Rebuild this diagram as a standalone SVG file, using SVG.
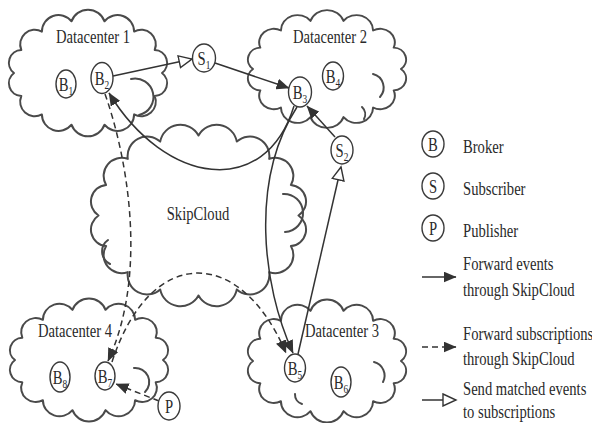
<svg xmlns="http://www.w3.org/2000/svg" xmlns:xlink="http://www.w3.org/1999/xlink" width="592" height="423" viewBox="0 0 592 423">
<style>
.cloud{fill:#fff;stroke:#4a4a4a;stroke-width:2;stroke-linejoin:round}
.wisp{fill:none;stroke:#4a4a4a;stroke-width:2;stroke-linecap:round}
.node{fill:#fff;stroke:#3a3a3a;stroke-width:1.4}
.t{font-family:"Liberation Serif","Times New Roman",serif;font-size:19.5px;fill:#2a2a2a}
.c{text-anchor:middle}
.sub{font-size:12.5px}
.ln{fill:none;stroke:#333;stroke-width:1.5}
.dash{stroke-dasharray:6 4}
</style>
<defs>
<path id="dc" d="M 74 0 A 12.8 12.8 0 0 1 66.7 23 A 14.6 14.6 0 0 1 46.1 41.4 A 16.6 16.6 0 0 1 16.5 51.7 A 17.5 17.5 0 0 1 -16.5 51.7 A 16.6 16.6 0 0 1 -46.1 41.4 A 14.6 14.6 0 0 1 -66.7 23 A 12.8 12.8 0 0 1 -74 0 A 12.8 12.8 0 0 1 -66.7 -23 A 14.6 14.6 0 0 1 -46.1 -41.4 A 16.6 16.6 0 0 1 -16.5 -51.7 A 17.5 17.5 0 0 1 16.5 -51.7 A 16.6 16.6 0 0 1 46.1 -41.4 A 14.6 14.6 0 0 1 66.7 -23 A 12.8 12.8 0 0 1 74 0 Z"/>
<marker id="ah" viewBox="0 0 13 11" refX="12.5" refY="5.5" markerWidth="13" markerHeight="11" orient="auto" markerUnits="userSpaceOnUse"><path d="M0,0 L13,5.5 L0,11 z" fill="#333"/></marker>
<marker id="ahh" viewBox="-1 -1 16 14" refX="13" refY="6" markerWidth="16" markerHeight="14" orient="auto" markerUnits="userSpaceOnUse"><path d="M0,0 L13,6 L0,12 z" fill="#fff" stroke="#333" stroke-width="1.4"/></marker>
</defs>

<g id="skipcloud">
<path class="cloud" transform="translate(198.5,215.5)" d="M 100 0 A 16.7 16.7 0 0 1 92.4 30.6 A 18 18 0 0 1 70.7 56.6 A 19.5 19.5 0 0 1 38.3 73.9 A 20.6 20.6 0 0 1 0 80 A 20.6 20.6 0 0 1 -38.3 73.9 A 19.5 19.5 0 0 1 -70.7 56.6 A 18 18 0 0 1 -92.4 30.6 A 16.7 16.7 0 0 1 -100 0 A 16.7 16.7 0 0 1 -92.4 -30.6 A 18 18 0 0 1 -70.7 -56.6 A 19.5 19.5 0 0 1 -38.3 -73.9 A 20.6 20.6 0 0 1 0 -80 A 20.6 20.6 0 0 1 38.3 -73.9 A 19.5 19.5 0 0 1 70.7 -56.6 A 18 18 0 0 1 92.4 -30.6 A 16.7 16.7 0 0 1 100 0 Z"/>
<path class="wisp" d="M 283 194 A 16 16 0 0 1 285 232"/>
<path class="wisp" d="M 108 240 A 14 14 0 0 0 110 264"/>
<text class="t c" transform="translate(198,220) scale(0.75,1)">SkipCloud</text>
</g>

<g id="datacenter1">
<use xlink:href="#dc" href="#dc" class="cloud" transform="translate(88,73)"/>
<path class="wisp" d="M 131 79 A 17 17 0 0 1 139 115"/>
<text class="t c" transform="translate(93,43) scale(0.75,1)">Datacenter 1</text>
</g>
<g id="datacenter2">
<use xlink:href="#dc" href="#dc" class="cloud" transform="translate(327,69) scale(1,0.93)"/>
<path class="wisp" d="M 373 74 A 14 14 0 0 1 380 97"/>
<path class="wisp" d="M 362 107 A 10 10 0 0 1 364 119"/>
<text class="t c" transform="translate(330,43) scale(0.75,1)">Datacenter 2</text>
</g>
<g id="datacenter4">
<use xlink:href="#dc" href="#dc" class="cloud" transform="translate(89,360) scale(1,0.97)"/>
<path class="wisp" d="M 134 368 A 14 14 0 0 1 145 392"/>
<text class="t c" transform="translate(75,337) scale(0.75,1)">Datacenter 4</text>
</g>
<g id="datacenter3">
<use xlink:href="#dc" href="#dc" class="cloud" transform="translate(327,361) scale(1,0.97)"/>
<path class="wisp" d="M 374 362 A 14 14 0 0 1 383 382"/>
<path class="wisp" d="M 295 394 A 10 10 0 0 0 302 404"/>
<text class="t c" transform="translate(342,337) scale(0.75,1)">Datacenter 3</text>
</g>

<g id="connectors">
<path class="ln" d="M 113 76 L 192 59" marker-end="url(#ahh)"/>
<path class="ln" d="M 215 63 L 289 88" marker-end="url(#ah)"/>
<path class="ln" d="M 294 106 C 265 200, 165 185, 109 93" marker-end="url(#ah)"/>
<path class="ln" d="M 297 107 C 250 180, 262 285, 293 353" marker-end="url(#ah)"/>
<path class="ln" d="M 298 354 L 341 167" marker-end="url(#ahh)"/>
<path class="ln" d="M 335 137 L 307 106" marker-end="url(#ah)"/>
<path class="ln dash" d="M 105 94 C 125 150, 150 270, 108 361" marker-end="url(#ah)"/>
<path class="ln dash" d="M 112 362 C 150 245, 240 245, 286 353" marker-end="url(#ah)"/>
<path class="ln dash" d="M 159 401 L 116 384" marker-end="url(#ah)"/>
</g>

<g id="B1"><ellipse class="node" cx="66" cy="84" rx="10" ry="14"/><text class="t c" transform="translate(66,90.5) scale(0.75,1)">B<tspan class="sub" dy="4">1</tspan></text></g>
<g id="B2"><ellipse class="node" cx="102" cy="78" rx="11" ry="15.5"/><text class="t c" transform="translate(102,84.5) scale(0.75,1)">B<tspan class="sub" dy="4">2</tspan></text></g>
<g id="S1"><ellipse class="node" cx="204" cy="58" rx="11.5" ry="14"/><text class="t c" transform="translate(204,64.5) scale(0.75,1)">S<tspan class="sub" dy="4">1</tspan></text></g>
<g id="B3"><ellipse class="node" cx="300" cy="92" rx="11.5" ry="15"/><text class="t c" transform="translate(300,98.5) scale(0.75,1)">B<tspan class="sub" dy="4">3</tspan></text></g>
<g id="B4"><ellipse class="node" cx="333" cy="76" rx="10.5" ry="14"/><text class="t c" transform="translate(333,82.5) scale(0.75,1)">B<tspan class="sub" dy="4">4</tspan></text></g>
<g id="S2"><ellipse class="node" cx="342" cy="150" rx="11" ry="14"/><text class="t c" transform="translate(342,156.5) scale(0.75,1)">S<tspan class="sub" dy="4">2</tspan></text></g>
<g id="B5"><ellipse class="node" cx="295" cy="368" rx="10.5" ry="14"/><text class="t c" transform="translate(295,374.5) scale(0.75,1)">B<tspan class="sub" dy="4">5</tspan></text></g>
<g id="B6"><ellipse class="node" cx="341" cy="382" rx="10" ry="15"/><text class="t c" transform="translate(341,388.5) scale(0.75,1)">B<tspan class="sub" dy="4">6</tspan></text></g>
<g id="B8"><ellipse class="node" cx="60" cy="377" rx="10" ry="15"/><text class="t c" transform="translate(60,383.5) scale(0.75,1)">B<tspan class="sub" dy="4">8</tspan></text></g>
<g id="B7"><ellipse class="node" cx="105" cy="376" rx="10" ry="14"/><text class="t c" transform="translate(105,382.5) scale(0.75,1)">B<tspan class="sub" dy="4">7</tspan></text></g>
<g id="P"><ellipse class="node" cx="169" cy="406" rx="11" ry="14"/><text class="t c" transform="translate(169,412.5) scale(0.75,1)">P</text></g>

<g id="legend">
<ellipse class="node" cx="433" cy="144" rx="11" ry="13"/><text class="t c" transform="translate(433,150.5) scale(0.75,1)">B</text>
<ellipse class="node" cx="433" cy="186" rx="11" ry="13"/><text class="t c" transform="translate(433,192.5) scale(0.75,1)">S</text>
<ellipse class="node" cx="433" cy="228" rx="11" ry="13"/><text class="t c" transform="translate(433,234.5) scale(0.75,1)">P</text>
<text class="t" transform="translate(463,153) scale(0.75,1)">Broker</text>
<text class="t" transform="translate(463,195) scale(0.75,1)">Subscriber</text>
<text class="t" transform="translate(463,237) scale(0.75,1)">Publisher</text>
<path class="ln" d="M 422 277 L 456 277" marker-end="url(#ah)"/>
<text class="t" transform="translate(463,270) scale(0.75,1)">Forward events</text>
<text class="t" transform="translate(463,296) scale(0.75,1)">through SkipCloud</text>
<path class="ln dash" d="M 422 347 L 456 347" marker-end="url(#ah)"/>
<text class="t" transform="translate(463,340) scale(0.75,1)">Forward subscriptions</text>
<text class="t" transform="translate(463,365) scale(0.75,1)">through SkipCloud</text>
<path class="ln" d="M 422 400 L 456 400" marker-end="url(#ahh)"/>
<text class="t" transform="translate(463,395) scale(0.75,1)">Send matched events</text>
<text class="t" transform="translate(463,418) scale(0.75,1)">to subscriptions</text>
</g>
</svg>
